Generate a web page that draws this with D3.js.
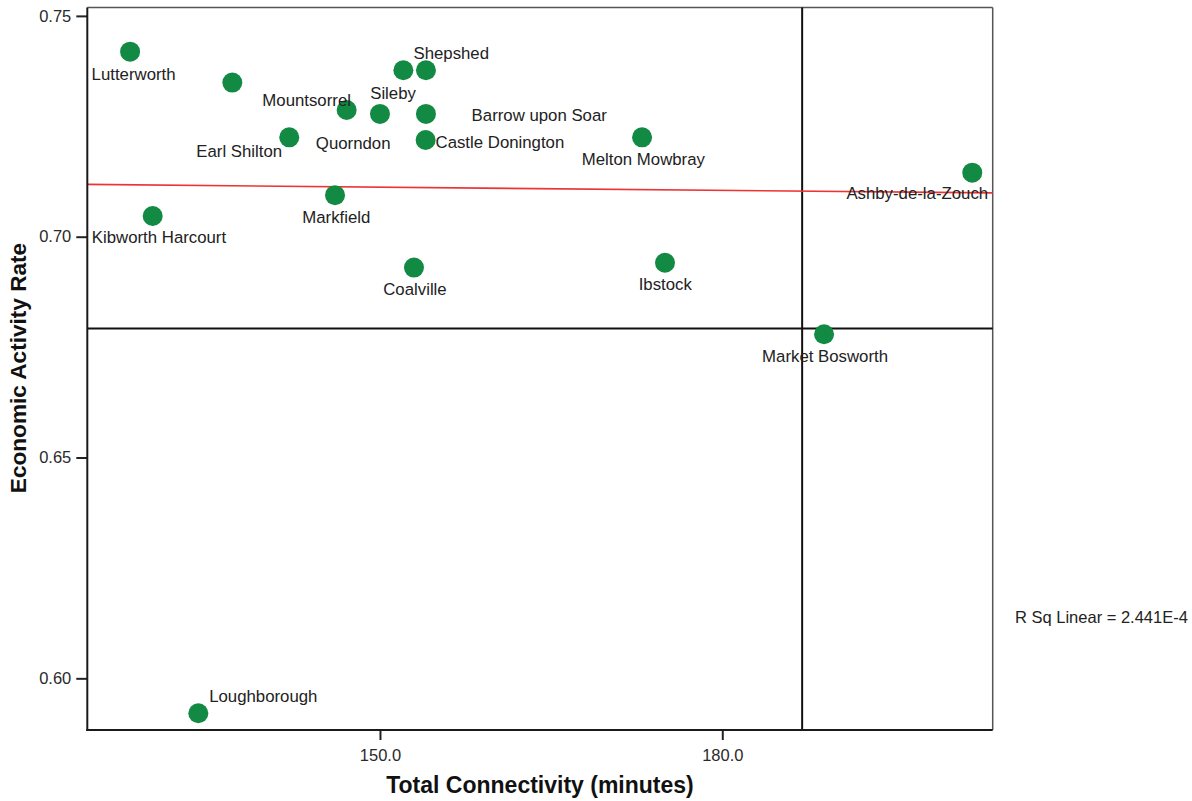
<!DOCTYPE html>
<html>
<head>
<meta charset="utf-8">
<script src="https://cdn.jsdelivr.net/npm/d3@7"></script>
<style>
  html, body { margin: 0; padding: 0; background: #fff; }
  svg { display: block; font-family: "Liberation Sans", Arial, Helvetica, sans-serif; }
</style>
</head>
<body>
<svg id="chart" width="1192" height="801"></svg>
<script>
// Towns (one point carries no label)
const towns = [
  "Lutterworth", "", "Earl Shilton", "Kibworth Harcourt", "Sileby", "Shepshed",
  "Mountsorrel", "Quorndon", "Barrow upon Soar", "Castle Donington",
  "Melton Mowbray", "Markfield", "Coalville", "Ibstock", "Market Bosworth",
  "Ashby-de-la-Zouch", "Loughborough"
];
// Total connectivity, minutes
const connectivity = [
  128.1, 137.06, 142.05, 130.08, 152.05, 154.03,
  147.08, 150.0, 154.03, 154.0,
  172.97, 146.06, 152.98, 174.98, 188.92,
  201.91, 134.08
];
// Economic activity rate
const activity = [
  0.7419, 0.7349, 0.7225, 0.7047, 0.7377, 0.7377,
  0.7287, 0.7278, 0.7278, 0.7219,
  0.7225, 0.7094, 0.6930, 0.6941, 0.6779,
  0.7145, 0.5921
];
const xTicks = [150, 180];
const yTicks = [0.60, 0.65, 0.70, 0.75];
const xDomain = [124.35, 203.7];
const yDomain = [0.5883, 0.7519];
// Reference lines
const refX = 187.0;
const refY = 0.6792;
const rSqLabel = "R Sq Linear = 2.441E-4";

// ---- layout ----
const svg = d3.select("#chart");
const pLeft = 87.3, pRight = 992.7, pTop = 7.5, pBottom = 730;
const x = d3.scaleLinear().domain(xDomain).range([pLeft, pRight]);
const y = d3.scaleLinear().domain(yDomain).range([pBottom, pTop]);

// label placement offsets (px) relative to each point
const labelOffsets = [
  [3.5, 22], [0, 0], [-50, 14], [6.3, 21.6], [-10.3, 23.3], [25.3, -16.7],
  [-40, -10], [-26.8, 28.7], [113.3, 1], [74.3, 1.7],
  [1.3, 22], [1.3, 21.7], [1, 22], [0.3, 21], [1, 21.7],
  [-55, 20], [65, -16.7]
];

const points = towns.map((t, i) => ({ name: t, cx: connectivity[i], ay: activity[i], off: labelOffsets[i] }));

// frame: top and right borders
svg.append("line").attr("x1", pLeft).attr("x2", pRight).attr("y1", pTop).attr("y2", pTop)
  .attr("stroke", "#555").attr("stroke-width", 1.5);
svg.append("line").attr("x1", pRight).attr("x2", pRight).attr("y1", pTop).attr("y2", pBottom)
  .attr("stroke", "#555").attr("stroke-width", 1.5);

// reference lines
svg.append("line").attr("x1", x(refX)).attr("x2", x(refX)).attr("y1", pTop).attr("y2", pBottom)
  .attr("stroke", "#111").attr("stroke-width", 2);
svg.append("line").attr("x1", pLeft).attr("x2", pRight).attr("y1", y(refY)).attr("y2", y(refY))
  .attr("stroke", "#111").attr("stroke-width", 2);

// linear fit (least squares)
const mx = d3.mean(connectivity), my = d3.mean(activity);
let sxy = 0, sxx = 0;
connectivity.forEach((v, i) => { sxy += (v - mx) * (activity[i] - my); sxx += (v - mx) * (v - mx); });
const slope = sxy / sxx, intercept = my - slope * mx;
svg.append("line")
  .attr("x1", x(xDomain[0])).attr("y1", y(intercept + slope * xDomain[0]))
  .attr("x2", x(xDomain[1])).attr("y2", y(intercept + slope * xDomain[1]))
  .attr("stroke", "#ee3333").attr("stroke-width", 1.6);

// axes
const xAxis = svg.append("g").attr("transform", `translate(0,${pBottom})`)
  .call(d3.axisBottom(x).tickValues(xTicks).tickFormat(d3.format(".1f")).tickSize(10).tickPadding(9));
const yAxis = svg.append("g").attr("transform", `translate(${pLeft},0)`)
  .call(d3.axisLeft(y).tickValues(yTicks).tickFormat(d3.format(".2f")).tickSize(11).tickPadding(5));
[xAxis, yAxis].forEach(g => {
  g.select(".domain").remove();
  g.selectAll(".tick line").attr("stroke", "#222").attr("stroke-width", 2);
  g.selectAll(".tick text").attr("fill", "#2a2a2a").style("font-size", "16.5px")
    .style("font-family", '"Liberation Sans", Arial, sans-serif');
});

// left and bottom axis lines
svg.append("line").attr("x1", pLeft).attr("x2", pLeft).attr("y1", pTop).attr("y2", pBottom + 1)
  .attr("stroke", "#1a1a1a").attr("stroke-width", 2);
svg.append("line").attr("x1", pLeft - 1).attr("x2", pRight).attr("y1", pBottom).attr("y2", pBottom)
  .attr("stroke", "#1a1a1a").attr("stroke-width", 2);

// points
svg.append("g").selectAll("circle").data(points).join("circle")
  .attr("cx", d => x(d.cx)).attr("cy", d => y(d.ay)).attr("r", 10)
  .attr("fill", "#138a43");

// point labels
svg.append("g").selectAll("text").data(points.filter(d => d.name)).join("text")
  .attr("x", d => x(d.cx) + d.off[0]).attr("y", d => y(d.ay) + d.off[1])
  .attr("text-anchor", "middle").attr("dy", "0.35em")
  .attr("fill", "#222").style("font-size", "16.8px")
  .text(d => d.name);

// axis titles
svg.append("text").attr("x", 540).attr("y", 793)
  .attr("text-anchor", "middle").attr("fill", "#111")
  .style("font-size", "23px").style("font-weight", "bold")
  .text("Total Connectivity (minutes)");
svg.append("text").attr("transform", "translate(26,368) rotate(-90)")
  .attr("text-anchor", "middle").attr("fill", "#111")
  .style("font-size", "22.6px").style("font-weight", "bold")
  .text("Economic Activity Rate");

// fit annotation
svg.append("text").attr("x", 1015).attr("y", 617).attr("dy", "0.35em")
  .attr("fill", "#222").style("font-size", "16.5px").text(rSqLabel);
</script>
</body>
</html>
